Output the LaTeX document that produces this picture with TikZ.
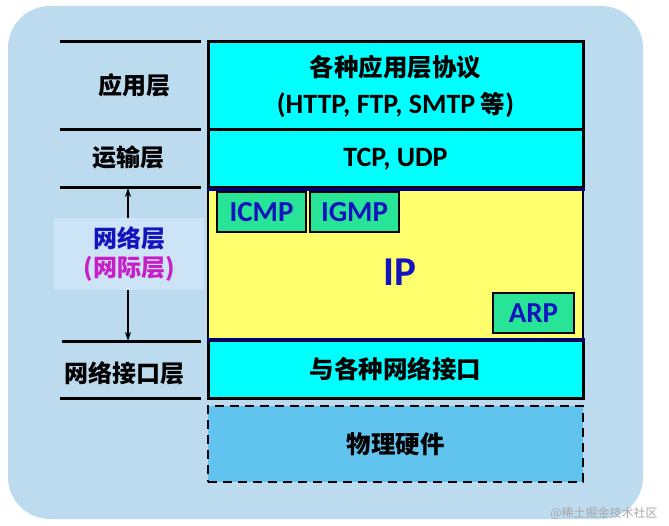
\documentclass[tikz,border=0pt]{standalone}
\usepackage{fontspec}
\setmainfont{Carlito}
\newfontfamily\cjk{Noto Sans CJK SC}
\usetikzlibrary{positioning,arrows.meta}
\definecolor{framebg}{RGB}{189,219,239}
\definecolor{labelbg}{RGB}{205,228,246}
\definecolor{layercyan}{RGB}{0,255,255}
\definecolor{ipyellow}{RGB}{255,255,110}
\definecolor{protogreen}{RGB}{40,228,150}
\definecolor{phyblue}{RGB}{96,196,238}
\definecolor{ipnavy}{RGB}{0,0,130}
\definecolor{textblue}{RGB}{20,20,190}
\definecolor{textmagenta}{RGB}{200,30,200}
\newcommand{\latbig}{\fontsize{28}{37}\selectfont}
\tikzset{
  layerbox/.style={draw=black,fill=layercyan,line width=3pt,minimum width=375pt,align=center,inner sep=0pt,font=\fontsize{24.5}{37}\selectfont\bfseries},
  protobox/.style={draw=black,fill=protogreen,line width=1.4pt,minimum height=40pt,inner sep=0pt,text=textblue,font=\fontsize{29}{30}\selectfont\bfseries},
  sidelabel/.style={align=center,font=\fontsize{24}{29}\selectfont\cjk\bfseries},
  sepline/.style={line width=3pt,draw=black},
  updown/.style={-{Stealth[length=9pt,width=6pt]},line width=1.4pt,draw=black},
}
\begin{document}
\begin{tikzpicture}[x=1pt,y=-1pt]
  \useasboundingbox (0,0) rectangle (669,526);
  \fill[framebg,rounded corners=42pt] (8,6) rectangle (643,519);
  % protocol stack
  \node[layerbox,minimum height=88pt] (app) at (395.5,86)
    {{\cjk 各种应用层协议}\\{\latbig(HTTP, FTP, SMTP} {\cjk 等}{\latbig)}};
  \node[layerbox,minimum height=58pt] (tcp) at (395.5,159) {\latbig TCP, UDP};
  \node[draw=black,fill=ipyellow,line width=2pt,minimum width=375pt,minimum height=153pt,inner sep=0pt] (ip) at (395.5,264.5) {};
  \node[text=textblue,font=\fontsize{41}{44}\selectfont\bfseries] (iplbl) at (400,272) {IP};
  \node[layerbox,minimum height=57pt] (netif) at (395.5,369.5) {\cjk 与各种网络接口};
  \draw[ipnavy,line width=3pt] (tcp.south west) -- (tcp.south east);
  \draw[ipnavy,line width=3pt] (netif.north west) -- (netif.north east);
  \node[layerbox,fill=phyblue,dashed,dash pattern=on 9pt off 6pt,line width=2.4pt,minimum height=76pt] (phy) at (395.5,444) {\cjk 物理硬件};
  % protocols inside IP
  \node[protobox,minimum width=89pt] (icmp) at (261.5,212) {ICMP};
  \node[protobox,minimum width=89pt] (igmp) at (354.5,212) {IGMP};
  \node[protobox,minimum width=81pt] (arp) at (533.5,313) {ARP};
  % layer names
  \draw[sepline] (60,42) -- (201,42);
  \draw[sepline] (60,130) -- (201,130);
  \draw[sepline] (60,188) -- (201,188);
  \draw[sepline] (62,342) -- (201,342);
  \draw[sepline] (60,398) -- (201,398);
  \coordinate (nettop) at (128,188);
  \coordinate (netbot) at (128,341);
  \node[sidelabel] (applbl) at (134,85) {应用层};
  \node[sidelabel] (tcplbl) at (128,157) {运输层};
  \node[sidelabel,fill=labelbg,minimum width=150pt,minimum height=72pt,inner sep=0pt] (netlbl) at (129,254)
    {\textcolor{textblue}{网络层}\\\textcolor{textmagenta}{(网际层)}};
  \node[sidelabel] (iflbl) at (124,373) {网络接口层};
  \draw[updown] (netlbl.north -| nettop) -- (nettop);
  \draw[updown] (netlbl.south -| netbot) -- (netbot);
  \node[text=black!35,font=\fontsize{12}{14}\selectfont\cjk] (mark) at (604,513) {@稀土掘金技术社区};
\end{tikzpicture}
\end{document}
